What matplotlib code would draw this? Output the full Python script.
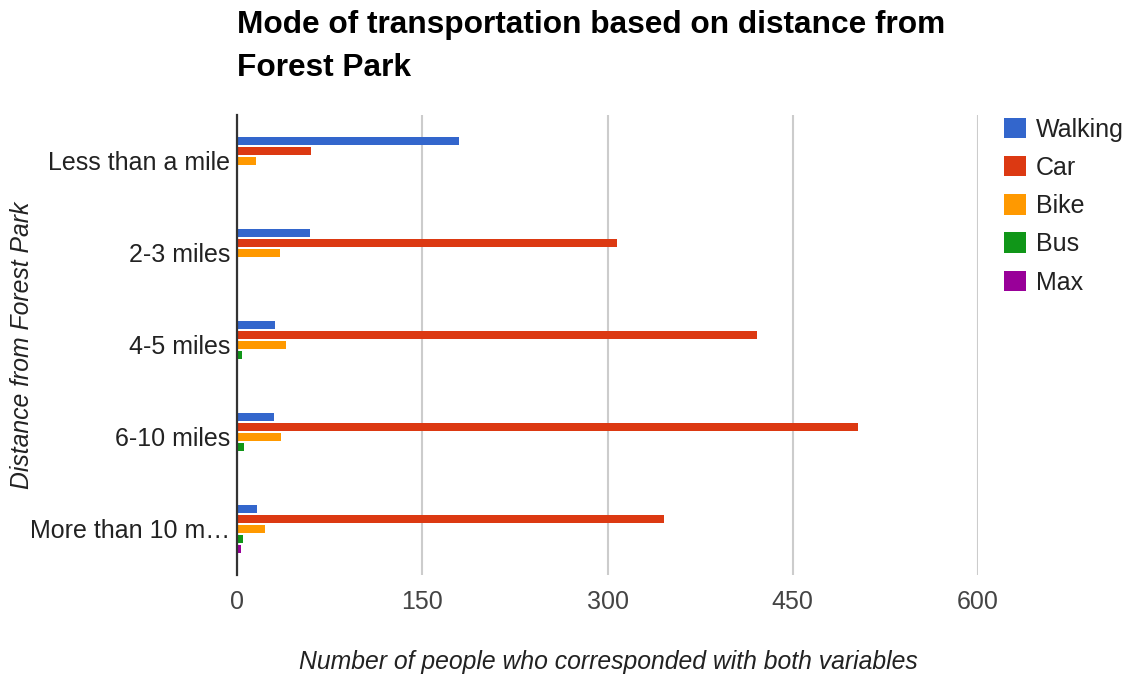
import numpy as np
import matplotlib.pyplot as plt
from matplotlib.patches import Patch

plt.rcParams['font.family'] = ['Liberation Sans', 'DejaVu Sans']

distances = ['Less than a mile', '2-3 miles', '4-5 miles', '6-10 miles', 'More than 10 m\u2026']
modes = ['Walking', 'Car', 'Bike', 'Bus', 'Max']
colors = ['#3366cc', '#dc3912', '#ff9900', '#109618', '#990099']

walking = [180, 59, 31, 30, 16]
car = [60, 308, 421, 503, 346]
bike = [15, 35, 40, 36, 23]
bus = [0, 0, 4, 6, 5]
max_rail = [0, 0, 1, 1, 3]
series = [walking, car, bike, bus, max_rail]

fig = plt.figure(figsize=(11.26, 6.77), dpi=100)
ax = fig.add_axes([237 / 1126, 1 - 575 / 677, 741 / 1126, 460 / 677])

y = np.arange(len(distances))
pitch = 0.109
height = 0.095
for i, (vals, name, c) in enumerate(zip(series, modes, colors)):
    ax.barh(y + (i - 2) * pitch, vals, height=height, color=c, label=name, zorder=3)

ax.set_xlim(0, 600)
ax.set_ylim(4.5, -0.5)
ax.set_xticks([0, 150, 300, 450, 600])
ax.set_yticks(y)
ax.set_yticklabels(distances)
ax.grid(axis='x', color='#cccccc', linewidth=1.5, zorder=0)
ax.tick_params(axis='both', length=0, labelsize=18, colors='#222222')
ax.tick_params(axis='x', pad=11, colors='#444444')
ax.tick_params(axis='y', pad=5)
for side in ['top', 'right', 'bottom']:
    ax.spines[side].set_visible(False)
ax.spines['left'].set_color('#333333')
ax.spines['left'].set_linewidth(1.6)
ax.spines['left'].set_zorder(4)

# axis titles placed in figure pixels so long tick labels don't push them
fig.text(608 / 1126, 1 - 662 / 677,
         'Number of people who corresponded with both variables',
         ha='center', va='center', fontsize=17.8, style='italic', color='#222222')
fig.text(22 / 1126, 1 - 345 / 677, 'Distance from Forest Park',
         ha='center', va='center', rotation=90, fontsize=17.8, style='italic',
         color='#222222')
fig.text(237 / 1126, 1 - 10 / 677,
         'Mode of transportation based on distance from\nForest Park',
         ha='left', va='top', fontsize=22.8, fontweight='bold', color='#000000',
         linespacing=1.55)

handles = [Patch(facecolor=c, edgecolor='none') for c in colors]
fig.legend(handles, modes, loc='upper left', bbox_to_anchor=(986 / 1126, 1 - 100 / 677),
           frameon=False, fontsize=18, handlelength=0.88, handleheight=0.88,
           labelspacing=0.57, handletextpad=0.4, labelcolor='#222222',
           borderaxespad=0.3)

fig.savefig('out.png', dpi=100)
